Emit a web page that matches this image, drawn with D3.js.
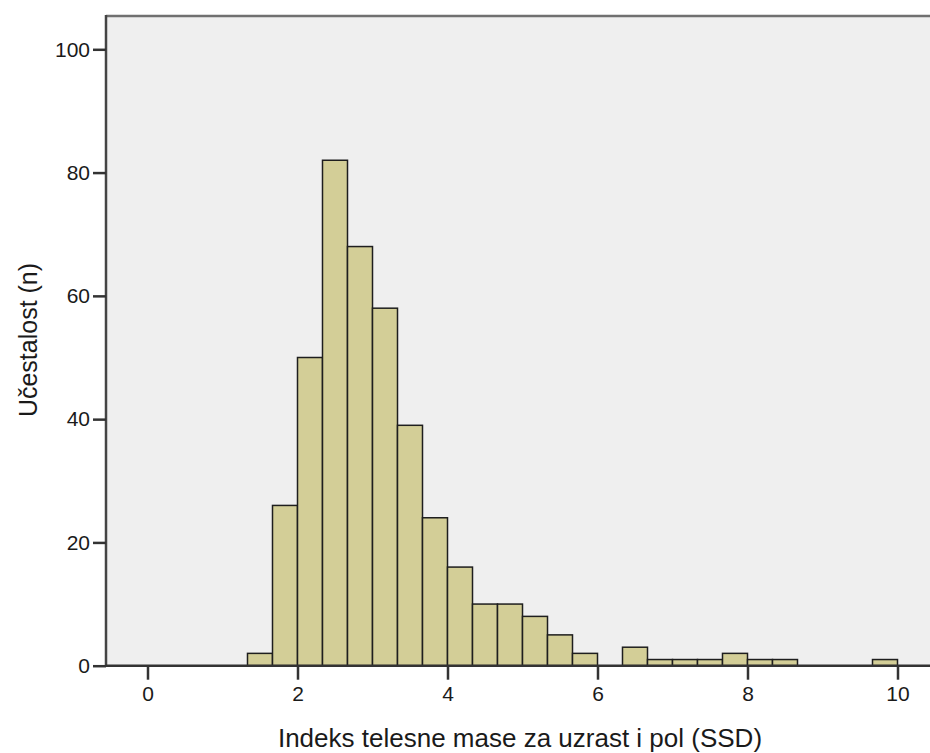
<!DOCTYPE html>
<html><head><meta charset="utf-8">
<script src="https://cdn.jsdelivr.net/npm/d3@7"></script>
<style>body{margin:0;background:#fff}svg{display:block}text{font-family:"Liberation Sans",Arial,sans-serif;fill:#1a1a1a}</style>
</head><body>
<script>
const binStarts = [1.3333,1.6667,2,2.3333,2.6667,3,3.3333,3.6667,4,4.3333,4.6667,5,5.3333,5.6667,6,6.3333,6.6667,7,7.3333,7.6667,8,8.3333,9.6667];
const counts    = [2,26,50,82,68,58,39,24,16,10,10,8,5,2,0,3,1,1,1,2,1,1,1];
const binWidth = 1/3;
const xTicks = [0,2,4,6,8,10];
const yTicks = [0,20,40,60,80,100];
const xTitle = "Indeks telesne mase za uzrast i pol (SSD)";
const yTitle = "Učestalost (n)";

(function(){
const W = 930, H = 753;
const svg = d3.select("body").append("svg").attr("width", W).attr("height", H);

const x = d3.scaleLinear().domain([0,10]).range([147.5,897.5]);
const y = d3.scaleLinear().domain([0,100]).range([665.7,49.3]);
const pL = 106, pT = 16, pB = 665.7, pR = 940;

svg.append("rect").attr("x",pL).attr("y",pT).attr("width",pR-pL).attr("height",pB-pT)
  .attr("fill","#efefef");

svg.append("g").selectAll("rect").data(binStarts.map((s,i)=>({s,c:counts[i]})).filter(d=>d.c>0))
  .join("rect")
  .attr("x", d=>x(d.s)).attr("width", d=>x(d.s+binWidth)-x(d.s))
  .attr("y", d=>y(d.c)).attr("height", d=>y(0)-y(d.c))
  .attr("fill","#d3ce97").attr("stroke","#1e1e1e").attr("stroke-width",1.5);

svg.append("line").attr("x1",pL).attr("x2",pR).attr("y1",pT).attr("y2",pT).attr("stroke","#707070").attr("stroke-width",2.5);
svg.append("line").attr("x1",pL).attr("x2",pL).attr("y1",pT-1).attr("y2",pB+1).attr("stroke","#444").attr("stroke-width",2.5);
svg.append("line").attr("x1",pL).attr("x2",pR).attr("y1",pB).attr("y2",pB).attr("stroke","#333").attr("stroke-width",2.5);

const ya = svg.append("g").attr("transform",`translate(${pL},0)`)
  .call(d3.axisLeft(y).tickValues(yTicks).tickSize(13).tickPadding(3));
ya.select(".domain").remove();
ya.selectAll("line").attr("stroke","#333").attr("stroke-width",2.5);
ya.selectAll("text").attr("font-size",21).attr("fill","#1a1a1a").attr("font-family",'"Liberation Sans",Arial,sans-serif');

const xa = svg.append("g").attr("transform",`translate(0,${pB})`)
  .call(d3.axisBottom(x).tickValues(xTicks).tickSize(14).tickPadding(6));
xa.select(".domain").remove();
xa.selectAll("line").attr("stroke","#333").attr("stroke-width",2.5);
xa.selectAll("text").attr("font-size",21).attr("fill","#1a1a1a").attr("font-family",'"Liberation Sans",Arial,sans-serif');

svg.append("text").attr("x",520).attr("y",747).attr("text-anchor","middle").attr("font-size",26).text(xTitle);
svg.append("text").attr("transform","translate(37,340) rotate(-90)").attr("text-anchor","middle").attr("font-size",25).text(yTitle);
})();
</script>
</body></html>
